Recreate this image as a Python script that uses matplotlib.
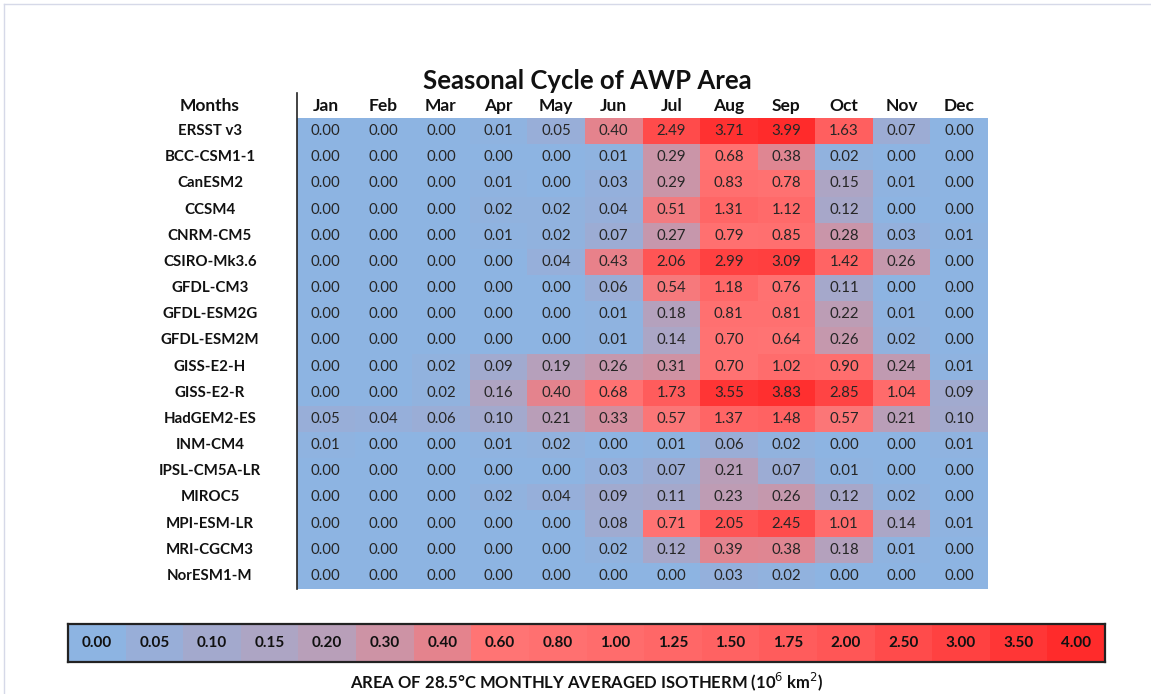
import numpy as np
import matplotlib
matplotlib.use("Agg")
import matplotlib.pyplot as plt
from matplotlib.colors import LinearSegmentedColormap
from matplotlib.lines import Line2D

plt.rcParams['font.family'] = ['Lato', 'DejaVu Sans']

months = ['Jan', 'Feb', 'Mar', 'Apr', 'May', 'Jun', 'Jul', 'Aug', 'Sep', 'Oct', 'Nov', 'Dec']
models = ['ERSST v3', 'BCC-CSM1-1', 'CanESM2', 'CCSM4', 'CNRM-CM5', 'CSIRO-Mk3.6',
          'GFDL-CM3', 'GFDL-ESM2G', 'GFDL-ESM2M', 'GISS-E2-H', 'GISS-E2-R', 'HadGEM2-ES',
          'INM-CM4', 'IPSL-CM5A-LR', 'MIROC5', 'MPI-ESM-LR', 'MRI-CGCM3', 'NorESM1-M']
area = [
    [0.00, 0.00, 0.00, 0.01, 0.05, 0.40, 2.49, 3.71, 3.99, 1.63, 0.07, 0.00],
    [0.00, 0.00, 0.00, 0.00, 0.00, 0.01, 0.29, 0.68, 0.38, 0.02, 0.00, 0.00],
    [0.00, 0.00, 0.00, 0.01, 0.00, 0.03, 0.29, 0.83, 0.78, 0.15, 0.01, 0.00],
    [0.00, 0.00, 0.00, 0.02, 0.02, 0.04, 0.51, 1.31, 1.12, 0.12, 0.00, 0.00],
    [0.00, 0.00, 0.00, 0.01, 0.02, 0.07, 0.27, 0.79, 0.85, 0.28, 0.03, 0.01],
    [0.00, 0.00, 0.00, 0.00, 0.04, 0.43, 2.06, 2.99, 3.09, 1.42, 0.26, 0.00],
    [0.00, 0.00, 0.00, 0.00, 0.00, 0.06, 0.54, 1.18, 0.76, 0.11, 0.00, 0.00],
    [0.00, 0.00, 0.00, 0.00, 0.00, 0.01, 0.18, 0.81, 0.81, 0.22, 0.01, 0.00],
    [0.00, 0.00, 0.00, 0.00, 0.00, 0.01, 0.14, 0.70, 0.64, 0.26, 0.02, 0.00],
    [0.00, 0.00, 0.02, 0.09, 0.19, 0.26, 0.31, 0.70, 1.02, 0.90, 0.24, 0.01],
    [0.00, 0.00, 0.02, 0.16, 0.40, 0.68, 1.73, 3.55, 3.83, 2.85, 1.04, 0.09],
    [0.05, 0.04, 0.06, 0.10, 0.21, 0.33, 0.57, 1.37, 1.48, 0.57, 0.21, 0.10],
    [0.01, 0.00, 0.00, 0.01, 0.02, 0.00, 0.01, 0.06, 0.02, 0.00, 0.00, 0.01],
    [0.00, 0.00, 0.00, 0.00, 0.00, 0.03, 0.07, 0.21, 0.07, 0.01, 0.00, 0.00],
    [0.00, 0.00, 0.00, 0.02, 0.04, 0.09, 0.11, 0.23, 0.26, 0.12, 0.02, 0.00],
    [0.00, 0.00, 0.00, 0.00, 0.00, 0.08, 0.71, 2.05, 2.45, 1.01, 0.14, 0.01],
    [0.00, 0.00, 0.00, 0.00, 0.00, 0.02, 0.12, 0.39, 0.38, 0.18, 0.01, 0.00],
    [0.00, 0.00, 0.00, 0.00, 0.00, 0.00, 0.00, 0.03, 0.02, 0.00, 0.00, 0.00],
]
levels = [0.00, 0.05, 0.10, 0.15, 0.20, 0.30, 0.40, 0.60, 0.80, 1.00,
          1.25, 1.50, 1.75, 2.00, 2.50, 3.00, 3.50, 4.00]

# colours of the key boxes, blue -> red
level_colors = ['#8db4e2', '#98aed8', '#a3a9cd', '#ada5c4', '#b89fb9', '#cd93a5',
                '#e4838d', '#ff7474', '#ff7070', '#ff6c6c', '#ff6767', '#ff6262',
                '#ff5c5c', '#ff5656', '#ff4b4b', '#ff4141', '#ff3636', '#ff2b2b']
cmap = LinearSegmentedColormap.from_list('awp', level_colors, N=256)

data = np.array(area)
pos = np.interp(data, levels, np.arange(len(levels))) / (len(levels) - 1)

W, H = 1151, 694
fig = plt.figure(figsize=(W / 100, H / 100), dpi=100)

def box(x0, y0, x1, y1):
    return [x0 / W, 1 - y1 / H, (x1 - x0) / W, (y1 - y0) / H]

# faint page frame
fig.add_artist(Line2D([4 / W, 4 / W], [0, 1 - 4 / H], color='#d6d9e8', lw=1))
fig.add_artist(Line2D([4 / W, 1], [1 - 4 / H, 1 - 4 / H], color='#d6d9e8', lw=1))

# ---- table
ax = fig.add_axes(box(297, 118, 988, 589))
nr, nc = data.shape
ax.pcolormesh(np.arange(nc + 1), np.arange(nr + 1), pos, cmap=cmap, vmin=0, vmax=1)
ax.set_xlim(0, nc)
ax.set_ylim(nr, 0)
for s in ax.spines.values():
    s.set_visible(False)
ax.set_xticks([])
ax.set_yticks([])
lab_x = -87 / 691 * nc
for i in range(nr):
    for j in range(nc):
        ax.text(j + 0.5, i + 0.5, '%.2f' % data[i, j], ha='center', va='center',
                fontsize=10.8, color='#262626')
    ax.text(lab_x, i + 0.5, models[i], ha='center', va='center',
            fontsize=10.8, fontweight='bold', color='#111111')
for j in range(nc):
    ax.text(j + 0.5, -0.45, months[j], ha='center', va='center', fontsize=12.5,
            fontweight='bold', color='#111111')
ax.text(lab_x, -0.45, 'Months', ha='center', va='center', fontsize=12.5,
        fontweight='bold', color='#111111')
ax.plot([0, 0], [nr, -25 / 471 * nr], color='#222222', lw=1.2, clip_on=False)
ax.text(290 / 691 * nc, -37 / 471 * nr, 'Seasonal Cycle of AWP Area',
        ha='center', va='center', fontsize=18.5, fontweight='bold', color='#111111')

# ---- key
cax = fig.add_axes(box(68, 624, 1105, 662))
nl = len(levels)
cax.pcolormesh(np.arange(nl + 1), [0, 1], [np.arange(nl) / (nl - 1)],
               cmap=LinearSegmentedColormap.from_list('key', level_colors, N=nl),
               vmin=0, vmax=1)
cax.set_xlim(0, nl)
cax.set_ylim(0, 1)
cax.set_xticks([])
cax.set_yticks([])
for s in cax.spines.values():
    s.set_linewidth(1.6)
    s.set_color('#222222')
for k, lv in enumerate(levels):
    cax.text(k + 0.5, 0.5, '%.2f' % lv, ha='center', va='center', fontsize=11,
             fontweight='bold', color='#111111')
fig.text(587 / W, 1 - 682 / H, 'AREA OF 28.5°C MONTHLY AVERAGED ISOTHERM (10$^{6}$ km$^{2}$)',
         ha='center', va='center', fontsize=12, fontweight='bold', color='#111111')

fig.savefig('out.png', dpi=100, facecolor='white')
